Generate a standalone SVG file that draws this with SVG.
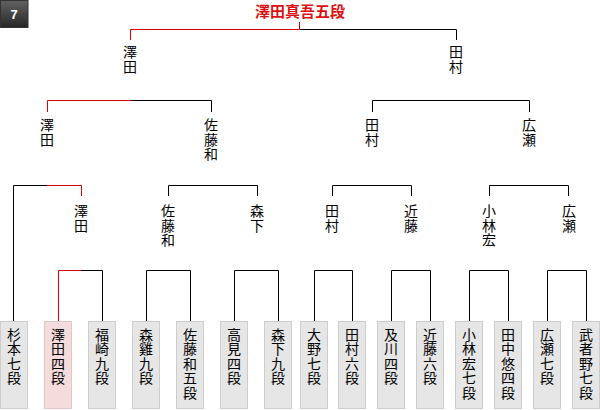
<svg xmlns="http://www.w3.org/2000/svg" width="600" height="410" viewBox="0 0 600 410">
<style>
.t{font-family:"Noto Sans CJK JP","Noto Sans CJK SC",sans-serif;font-size:14px;fill:#000;text-anchor:middle}
.k{stroke:#000;stroke-width:1;fill:none}
.r{stroke:#e00000;stroke-width:1;fill:none}
.b{fill:#e6e6e6;stroke:#cccccc;stroke-width:1}
.bh{fill:#f4dcdc;stroke:#e0c6c6;stroke-width:1}
.title{font-family:"Noto Sans CJK JP","Noto Sans CJK SC",sans-serif;font-size:15px;font-weight:bold;fill:#dd1111;text-anchor:middle}
</style>
<defs>
<linearGradient id="bg" x1="0" y1="0" x2="0" y2="1">
<stop offset="0" stop-color="#626262"/>
<stop offset="1" stop-color="#262626"/>
</linearGradient>
</defs>
<g id="badge">
<rect x="0.5" y="0.5" width="27.5" height="27" fill="url(#bg)" stroke="#333"/>
<text x="14" y="19" font-family="Liberation Sans, sans-serif" font-size="13" font-weight="bold" fill="#fff" text-anchor="middle">7</text>
</g>
<g id="winner"><text class="title" x="300" y="17">澤田真吾五段</text></g>
<g id="connectors">
<path class="r" d="M299.5 22V29.5M130.5 40V29.5H300"/>
<path class="k" d="M300 29.5H456.5V40"/>
<path class="r" d="M47.5 112V100.5H131"/>
<path class="k" d="M131 100.5H211.5V112"/>
<path class="k" d="M372.5 112V100.5H529.5V112"/>
<path class="k" d="M13.5 321V185.5H47"/>
<path class="r" d="M47 185.5H81.5V196"/>
<path class="k" d="M168.5 196V185.5H257.5V196"/>
<path class="k" d="M332.5 196V185.5H411.5V196"/>
<path class="k" d="M489.5 196V185.5H568.5V196"/>
<path class="r" d="M58.5 321V270.5H81"/>
<path class="k" d="M81 270.5H102.5V321"/>
<path class="k" d="M146.5 321V270.5H190.5V321"/>
<path class="k" d="M234.5 321V270.5H278.5V321"/>
<path class="k" d="M314.5 321V270.5H352.5V321"/>
<path class="k" d="M391.5 321V270.5H430.5V321"/>
<path class="k" d="M469.5 321V270.5H508.5V321"/>
<path class="k" d="M547.5 321V270.5H586.5V321"/>
</g>
<g id="r1-sawada"><text class="t" x="130" y="57"><tspan x="130">澤</tspan><tspan x="130" dy="14.5">田</tspan></text></g>
<g id="r1-tamura"><text class="t" x="456" y="57"><tspan x="456">田</tspan><tspan x="456" dy="14.5">村</tspan></text></g>
<g id="r2-sawada"><text class="t" x="47" y="130"><tspan x="47">澤</tspan><tspan x="47" dy="14.5">田</tspan></text></g>
<g id="r2-satokazu"><text class="t" x="211" y="130"><tspan x="211">佐</tspan><tspan x="211" dy="14.5">藤</tspan><tspan x="211" dy="14.5">和</tspan></text></g>
<g id="r2-tamura"><text class="t" x="372" y="130"><tspan x="372">田</tspan><tspan x="372" dy="14.5">村</tspan></text></g>
<g id="r2-hirose"><text class="t" x="529" y="130"><tspan x="529">広</tspan><tspan x="529" dy="14.5">瀬</tspan></text></g>
<g id="r3-sawada"><text class="t" x="81" y="216"><tspan x="81">澤</tspan><tspan x="81" dy="14.5">田</tspan></text></g>
<g id="r3-satokazu"><text class="t" x="168" y="216"><tspan x="168">佐</tspan><tspan x="168" dy="14.5">藤</tspan><tspan x="168" dy="14.5">和</tspan></text></g>
<g id="r3-morishita"><text class="t" x="257" y="216"><tspan x="257">森</tspan><tspan x="257" dy="14.5">下</tspan></text></g>
<g id="r3-tamura"><text class="t" x="332" y="216"><tspan x="332">田</tspan><tspan x="332" dy="14.5">村</tspan></text></g>
<g id="r3-kondo"><text class="t" x="411" y="216"><tspan x="411">近</tspan><tspan x="411" dy="14.5">藤</tspan></text></g>
<g id="r3-kobayashi"><text class="t" x="489" y="216"><tspan x="489">小</tspan><tspan x="489" dy="14.5">林</tspan><tspan x="489" dy="14.5">宏</tspan></text></g>
<g id="r3-hirose"><text class="t" x="569" y="216"><tspan x="569">広</tspan><tspan x="569" dy="14.5">瀬</tspan></text></g>
<g id="p1"><rect class="b" x="0.5" y="321.5" width="27" height="87"/><text class="t" y="339.5"><tspan x="14">杉</tspan><tspan x="14" dy="14.5">本</tspan><tspan x="14" dy="14.5">七</tspan><tspan x="14" dy="14.5">段</tspan></text></g>
<g id="p2"><rect class="bh" x="44.5" y="321.5" width="27" height="87"/><text class="t" y="339.5"><tspan x="58">澤</tspan><tspan x="58" dy="14.5">田</tspan><tspan x="58" dy="14.5">四</tspan><tspan x="58" dy="14.5">段</tspan></text></g>
<g id="p3"><rect class="b" x="88.5" y="321.5" width="27" height="87"/><text class="t" y="339.5"><tspan x="102">福</tspan><tspan x="102" dy="14.5">崎</tspan><tspan x="102" dy="14.5">九</tspan><tspan x="102" dy="14.5">段</tspan></text></g>
<g id="p4"><rect class="b" x="132.5" y="321.5" width="27" height="87"/><text class="t" y="339.5"><tspan x="146">森</tspan><tspan x="146" dy="14.5">雞</tspan><tspan x="146" dy="14.5">九</tspan><tspan x="146" dy="14.5">段</tspan></text></g>
<g id="p5"><rect class="b" x="176.5" y="321.5" width="27" height="87"/><text class="t" y="339.5"><tspan x="190">佐</tspan><tspan x="190" dy="14.5">藤</tspan><tspan x="190" dy="14.5">和</tspan><tspan x="190" dy="14.5">五</tspan><tspan x="190" dy="14.5">段</tspan></text></g>
<g id="p6"><rect class="b" x="220.5" y="321.5" width="27" height="87"/><text class="t" y="339.5"><tspan x="234">高</tspan><tspan x="234" dy="14.5">見</tspan><tspan x="234" dy="14.5">四</tspan><tspan x="234" dy="14.5">段</tspan></text></g>
<g id="p7"><rect class="b" x="264.5" y="321.5" width="27" height="87"/><text class="t" y="339.5"><tspan x="278">森</tspan><tspan x="278" dy="14.5">下</tspan><tspan x="278" dy="14.5">九</tspan><tspan x="278" dy="14.5">段</tspan></text></g>
<g id="p8"><rect class="b" x="300.5" y="321.5" width="27" height="87"/><text class="t" y="339.5"><tspan x="314">大</tspan><tspan x="314" dy="14.5">野</tspan><tspan x="314" dy="14.5">七</tspan><tspan x="314" dy="14.5">段</tspan></text></g>
<g id="p9"><rect class="b" x="338.5" y="321.5" width="27" height="87"/><text class="t" y="339.5"><tspan x="352">田</tspan><tspan x="352" dy="14.5">村</tspan><tspan x="352" dy="14.5">六</tspan><tspan x="352" dy="14.5">段</tspan></text></g>
<g id="p10"><rect class="b" x="377.5" y="321.5" width="27" height="87"/><text class="t" y="339.5"><tspan x="391">及</tspan><tspan x="391" dy="14.5">川</tspan><tspan x="391" dy="14.5">四</tspan><tspan x="391" dy="14.5">段</tspan></text></g>
<g id="p11"><rect class="b" x="416.5" y="321.5" width="27" height="87"/><text class="t" y="339.5"><tspan x="430">近</tspan><tspan x="430" dy="14.5">藤</tspan><tspan x="430" dy="14.5">六</tspan><tspan x="430" dy="14.5">段</tspan></text></g>
<g id="p12"><rect class="b" x="455.5" y="321.5" width="27" height="87"/><text class="t" y="339.5"><tspan x="469">小</tspan><tspan x="469" dy="14.5">林</tspan><tspan x="469" dy="14.5">宏</tspan><tspan x="469" dy="14.5">七</tspan><tspan x="469" dy="14.5">段</tspan></text></g>
<g id="p13"><rect class="b" x="494.5" y="321.5" width="27" height="87"/><text class="t" y="339.5"><tspan x="508">田</tspan><tspan x="508" dy="14.5">中</tspan><tspan x="508" dy="14.5">悠</tspan><tspan x="508" dy="14.5">四</tspan><tspan x="508" dy="14.5">段</tspan></text></g>
<g id="p14"><rect class="b" x="533.5" y="321.5" width="27" height="87"/><text class="t" y="339.5"><tspan x="547">広</tspan><tspan x="547" dy="14.5">瀬</tspan><tspan x="547" dy="14.5">七</tspan><tspan x="547" dy="14.5">段</tspan></text></g>
<g id="p15"><rect class="b" x="572.5" y="321.5" width="27" height="87"/><text class="t" y="339.5"><tspan x="586">武</tspan><tspan x="586" dy="14.5">者</tspan><tspan x="586" dy="14.5">野</tspan><tspan x="586" dy="14.5">七</tspan><tspan x="586" dy="14.5">段</tspan></text></g>
</svg>
